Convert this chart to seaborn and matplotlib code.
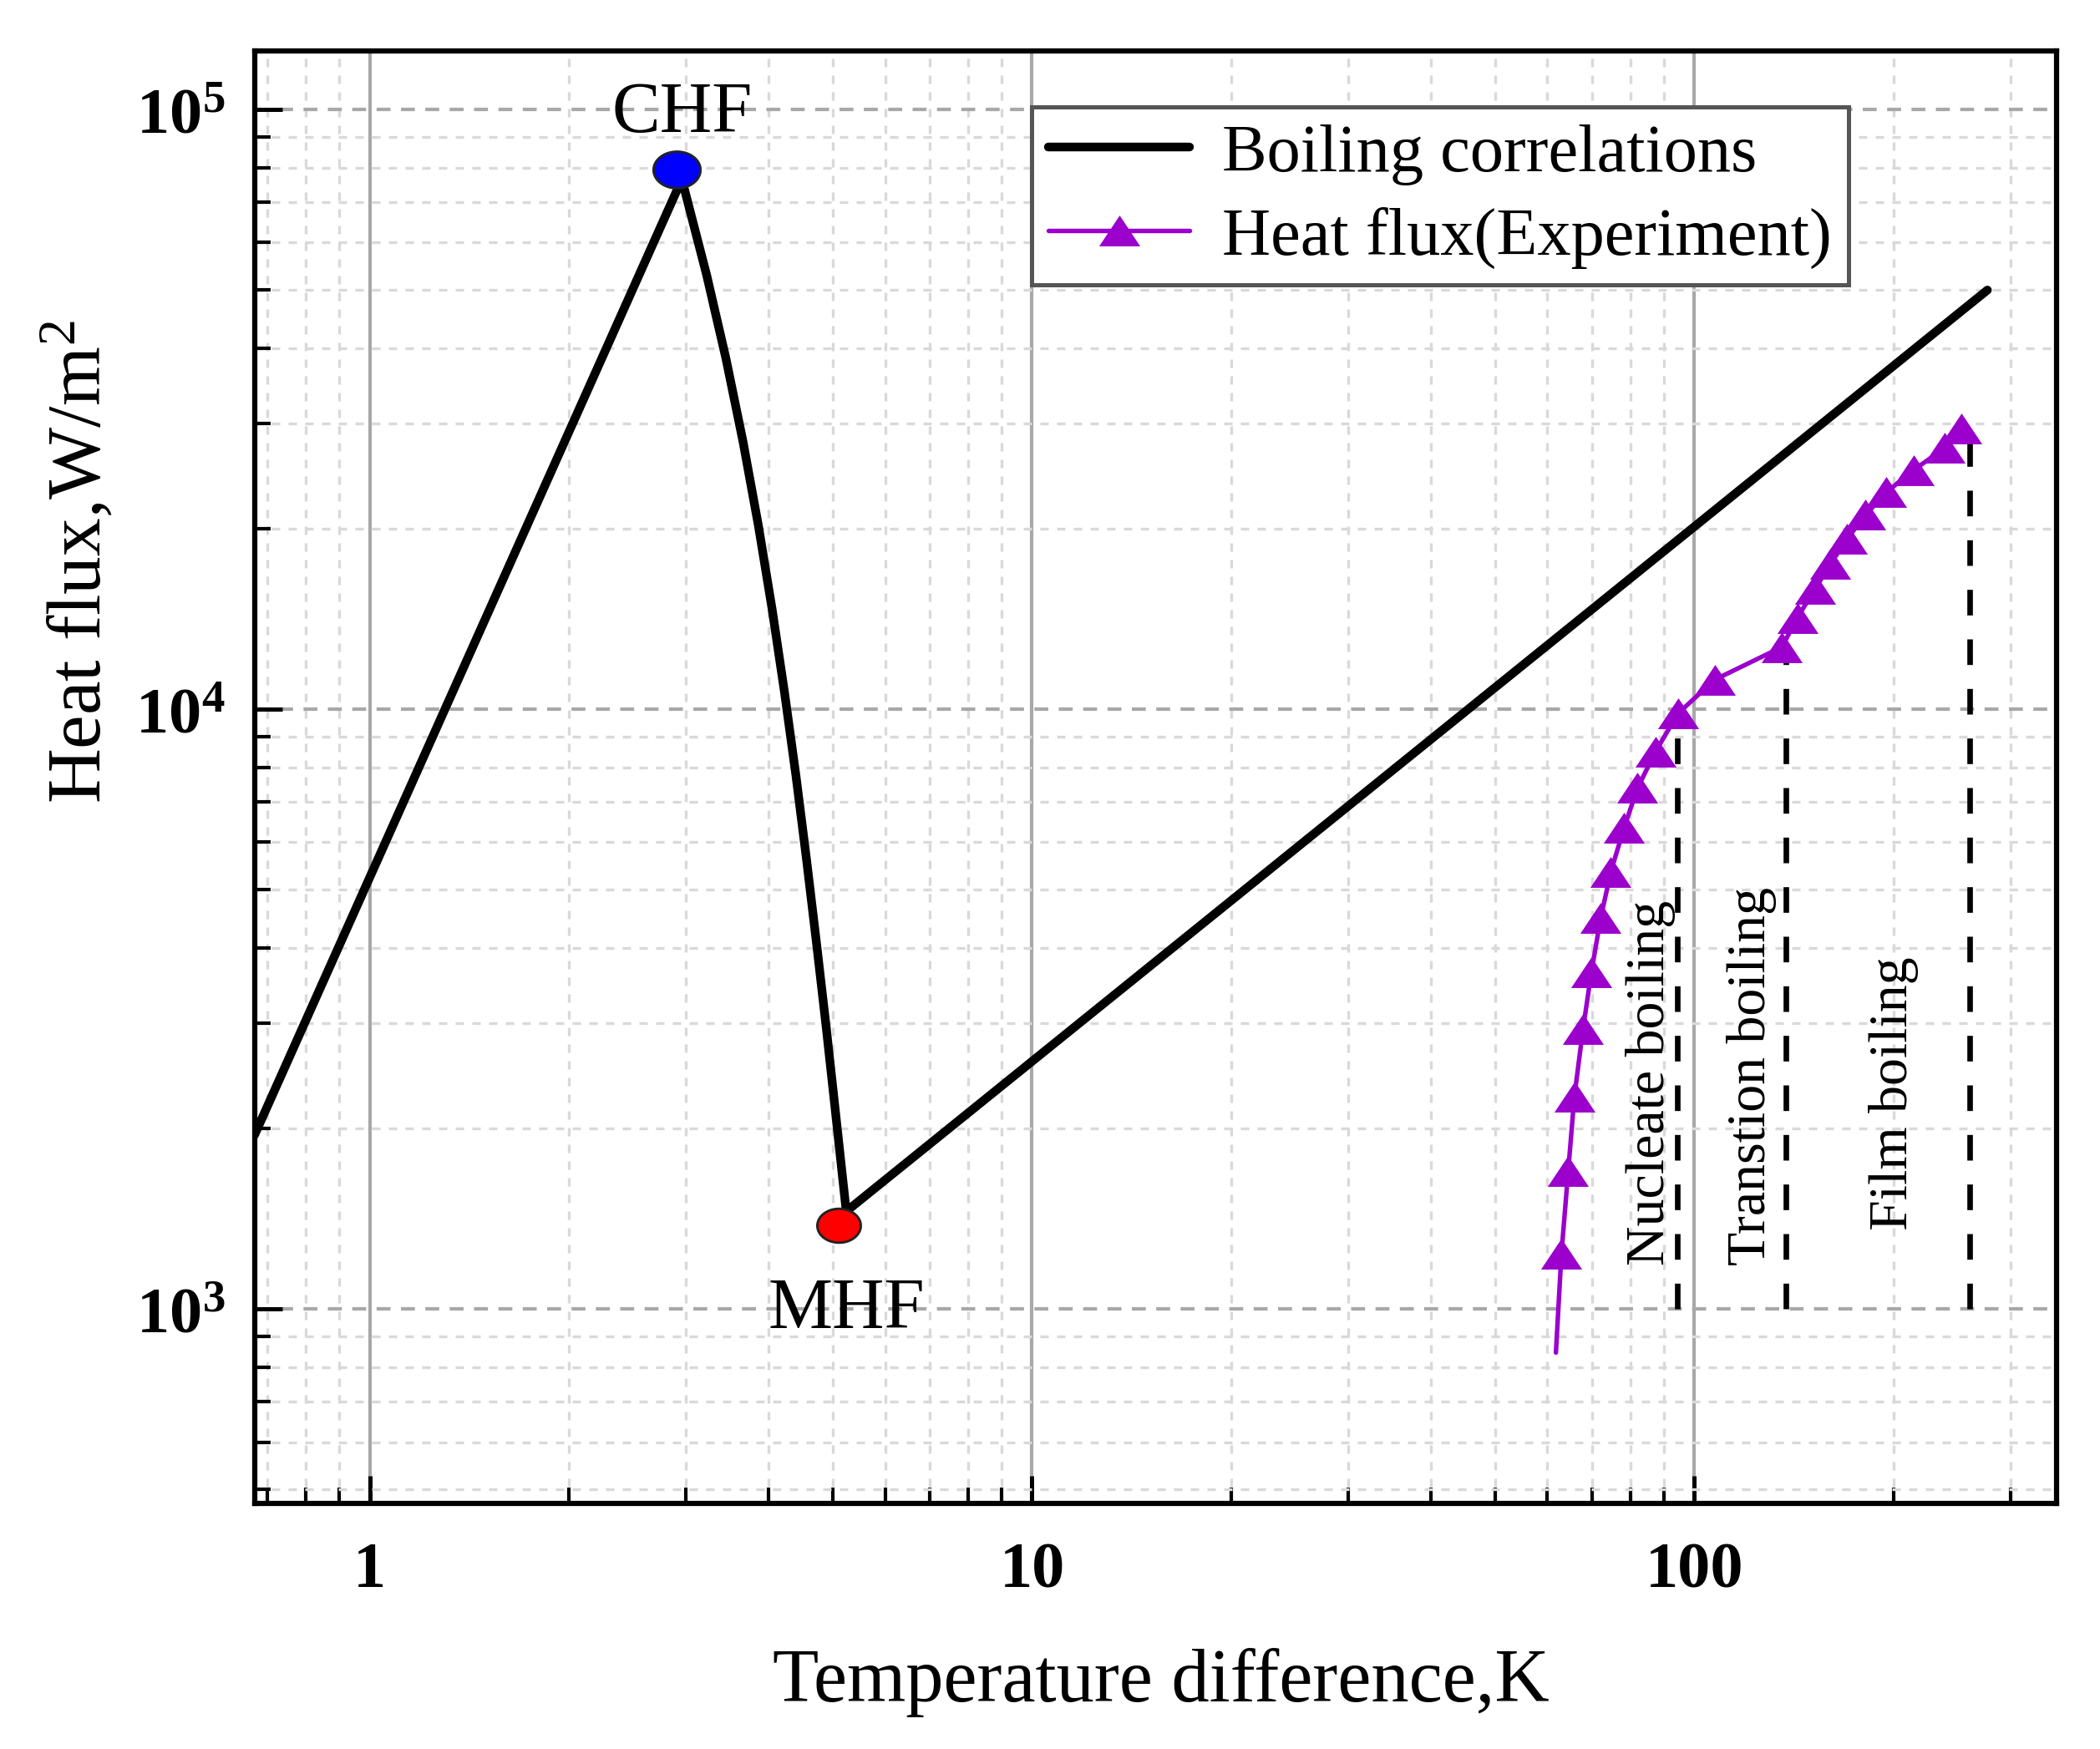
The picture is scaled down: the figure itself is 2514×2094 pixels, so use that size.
import numpy as np
import matplotlib.pyplot as plt
import seaborn as sns
from matplotlib.lines import Line2D
from matplotlib.ticker import FixedLocator, LogLocator, NullFormatter, FuncFormatter

# values
corr_dT = [0.67, 2.96, 3.226, 3.450, 3.662, 3.862, 4.051, 4.230, 4.402, 4.566,
           4.727, 4.888, 5.046, 5.242, 277]
corr_q = [1950, 76500, 53000, 38460, 27910, 20250, 14690, 10660, 7737, 5615,
          4075, 2957, 2145, 1455, 50000]

exp_dT = [61.8, 63.0, 64.5, 65.9, 67.9, 69.9, 72.2, 74.8, 78.3, 82.1, 87.4, 94.5,
          107.3, 135.6, 143.0, 152.3, 160.6, 170.2, 181.3, 194.9, 214.3, 238.8, 253.2]
exp_q = [846, 1237, 1698, 2262, 2928, 3640, 4485, 5357, 6341, 7393, 8507, 9841,
         11200, 12700, 14200, 15900, 17490, 19250, 21090, 23000, 25050, 27260, 29380]

chf_dT, chf_q = [2.907], [79500]
mhf_dT, mhf_q = [5.105], [1378]

regime_dT = [94.3, 137.3, 260.4]
regime_top = [9841, 12700, 29380]
regime_names = ['Nucleate boiling', 'Transtion boiling', 'Film boiling']
regime_text_dT = [86, 122, 200]
regime_text_q = [1186, 1186, 1357]

x_ticks = [1, 10, 100]
x_ticklabels = ['1', '10', '100']

purple = '#9b00cc'

sns.set_theme(style='ticks')
plt.rcParams['font.family'] = ['Liberation Serif', 'DejaVu Serif']
plt.rcParams['mathtext.fontset'] = 'custom'
plt.rcParams['mathtext.rm'] = 'Liberation Serif'
plt.rcParams['mathtext.it'] = 'Liberation Serif:italic'
plt.rcParams['mathtext.bf'] = 'Liberation Serif:bold'
plt.rcParams['text.color'] = 'black'
plt.rcParams['axes.labelcolor'] = 'black'
plt.rcParams['xtick.color'] = 'black'
plt.rcParams['ytick.color'] = 'black'

fig = plt.figure(figsize=(8.38, 6.9833), dpi=300)
ax = fig.add_axes([0.1212, 0.1403, 0.858, 0.8301])
ax.set_xscale('log')
ax.set_yscale('log')

# marker shapes
tri = [(-1, -0.75), (1, -0.75), (0, 0.75), (-1, -0.75)]
t = np.linspace(0, 2 * np.pi, 61)
ellipse = list(zip(np.cos(t), 0.78 * np.sin(t)))

sns.lineplot(x=corr_dT, y=corr_q, sort=False, estimator=None, color='black',
             lw=2.5, ax=ax, zorder=3, solid_joinstyle='round')
ax.vlines(regime_dT, 1000, regime_top, colors='black', lw=1.6,
          linestyles=[(0, (4.6, 4.3))], zorder=2)
sns.lineplot(x=exp_dT, y=exp_q, sort=False, estimator=None, color=purple,
             lw=1.3, ax=ax, zorder=4)
sns.scatterplot(x=exp_dT[1:], y=exp_q[1:], marker=tri, s=11.8 ** 2, color=purple,
                linewidth=0, ax=ax, zorder=5)
sns.scatterplot(x=chf_dT, y=chf_q, marker=ellipse, s=13.5 ** 2, color='#0000ff',
                edgecolor='#222222', linewidth=0.7, ax=ax, zorder=6)
sns.scatterplot(x=mhf_dT, y=mhf_q, marker=ellipse, s=12.5 ** 2, color='#ff0000',
                edgecolor='#222222', linewidth=0.7, ax=ax, zorder=6)

ax.text(2.967, 92000, 'CHF', fontsize=20.8, ha='center', va='baseline')
ax.text(5.25, 932, 'MHF', fontsize=20.8, ha='center', va='baseline')
for name, xt, yt in zip(regime_names, regime_text_dT, regime_text_q):
    ax.text(xt, yt, name, fontsize=15.8, rotation=90, ha='center', va='bottom')

ax.set_xlim(0.67, 352)
ax.set_ylim(474, 1.252e5)

# grid
ax.set_axisbelow(True)
ax.grid(True, which='major', axis='x', color='#a8a8a8', lw=1.0, ls='-')
ax.grid(True, which='major', axis='y', color='#a8a8a8', lw=1.0, ls=(0, (4, 3)))
ax.grid(True, which='minor', axis='both', color='#d9d9d9', lw=0.8, ls=(0, (3, 3)))

# ticks
ax.xaxis.set_major_locator(FixedLocator(x_ticks))
ax.xaxis.set_minor_locator(LogLocator(base=10, subs=np.arange(2, 10)))
ax.yaxis.set_minor_locator(LogLocator(base=10, subs=np.arange(2, 10)))
ax.set_xticklabels(x_ticklabels, fontweight='bold')
ax.xaxis.set_minor_formatter(NullFormatter())
ax.yaxis.set_major_formatter(FuncFormatter(lambda v, _: r'$\mathbf{10^{%d}}$' % round(np.log10(v))))
ax.yaxis.set_minor_formatter(NullFormatter())
ax.tick_params(which='both', direction='in', top=False, right=False, colors='black')
ax.tick_params(which='major', length=8, width=1.2, labelsize=18.8)
ax.tick_params(which='minor', length=4.5, width=1.0)
ax.tick_params(axis='x', pad=10.8)
ax.tick_params(axis='y', pad=8.4)
for s in ax.spines.values():
    s.set_linewidth(1.5)
    s.set_color('black')

ax.set_xlabel('Temperature difference,K', fontsize=21.7)
ax.set_ylabel('Heat flux,W/m$^2$', fontsize=21.9)
ax.xaxis.set_label_coords(0.503, -0.1225)
ax.xaxis.label.set_va('center')
ax.yaxis.set_label_coords(-0.098, 0.6487)
ax.yaxis.label.set_va('center')

handles = [
    Line2D([], [], color='black', lw=2.5),
    Line2D([], [], color=purple, lw=1.3, marker=tri, markersize=11.8, markeredgewidth=0),
]
leg = ax.legend(handles, ['Boiling correlations', 'Heat flux(Experiment)'],
                loc='upper left', bbox_to_anchor=(0.4313, 0.9615), borderaxespad=0,
                fontsize=19.3, handlelength=2.1, handletextpad=0.49, labelspacing=0.32,
                borderpad=0.25, fancybox=False, framealpha=1, edgecolor='#555555')
leg.get_frame().set_linewidth(1.2)

fig.savefig('out.png', dpi=300, facecolor='white')
